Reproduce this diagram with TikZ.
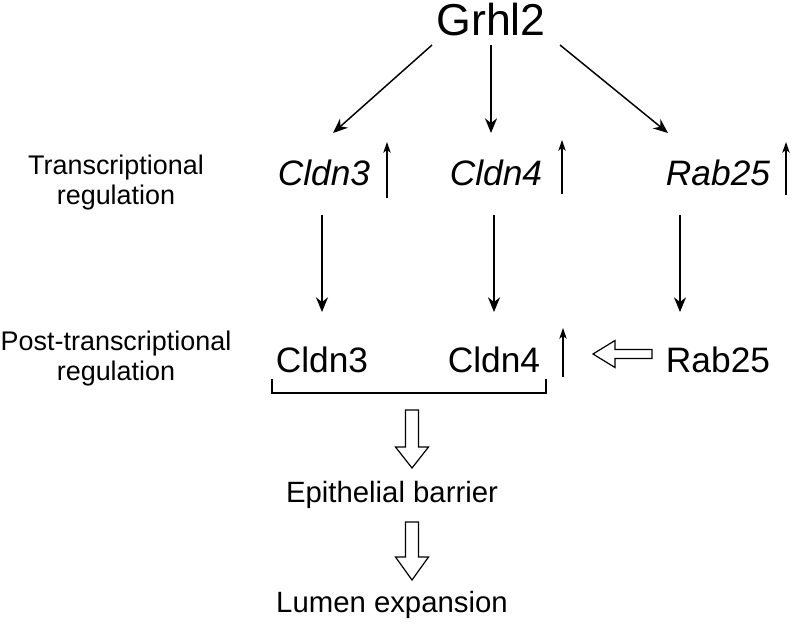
\documentclass[tikz,border=0pt]{standalone}
\usepackage{fontspec}
\setmainfont{Liberation Sans}
\usetikzlibrary{arrows.meta}
\begin{document}
\begin{tikzpicture}[x=0.75pt,y=-0.75pt,
  txt/.style={inner sep=0pt,anchor=base},
  bigtxt/.style={txt,font=\fontsize{33.5}{37}\selectfont},
  genetxt/.style={txt,font=\fontsize{26.5}{30}\selectfont\itshape},
  prottxt/.style={txt,font=\fontsize{26.5}{30}\selectfont},
  outtxt/.style={txt,font=\fontsize{22}{26}\selectfont},
  labtxt/.style={inner sep=0pt,align=center,font=\fontsize{20.2}{22.5}\selectfont},
  arr/.style={line width=1.1pt,-{Stealth[length=11pt,width=9pt,inset=3.5pt]}},
  uparr/.style={line width=1.1pt,-{Stealth[length=8pt,width=5.5pt,inset=2pt]}},
  hollow/.style={line width=0.9pt,draw=black,fill=white,line join=miter}]
\path[use as bounding box] (0,0) rectangle (792,626);
\node[bigtxt] (g) at (491,35) {Grhl2};
\node[genetxt] (t3) at (324,185) {Cldn3};
\node[genetxt] (t4) at (496,185) {Cldn4};
\node[genetxt] (r5) at (718,185) {Rab25};
\node[prottxt] (p3) at (322,372) {Cldn3};
\node[prottxt] (p4) at (494,372) {Cldn4};
\node[prottxt] (pr) at (718,372) {Rab25};
\node[outtxt] (eb) at (392,502) {Epithelial barrier};
\node[outtxt] (le) at (392,612) {Lumen expansion};
\node[labtxt] (l1) at (116,183) {Transcriptional\\regulation};
\node[labtxt] (l2) at (116,359) {Post-transcriptional\\regulation};
% Grhl2 arrows
\draw[arr] ([shift={(-59,10)}]g.base) -- ([shift={(9,-52)}]t3.base);
\draw[arr] ([shift={(0,10)}]g.base) -- ([shift={(-5,-52)}]t4.base);
\draw[arr] ([shift={(69,10)}]g.base) -- ([shift={(-50,-52)}]r5.base);
% transcript to protein
\draw[arr] ([shift={(-2,30)}]t3.base) -- ([shift={(0,-60)}]p3.base);
\draw[arr] ([shift={(-2,30)}]t4.base) -- ([shift={(0,-60)}]p4.base);
\draw[arr] ([shift={(-38,30)}]r5.base) -- ([shift={(-38,-60)}]pr.base);
% up arrows
\draw[uparr] ([shift={(63,13)}]t3.base) -- ([shift={(63,-43)}]t3.base);
\draw[uparr] ([shift={(66,9)}]t4.base) -- ([shift={(66,-45)}]t4.base);
\draw[uparr] ([shift={(68,10)}]r5.base) -- ([shift={(68,-43)}]r5.base);
\draw[uparr] ([shift={(69,5)}]p4.base) -- ([shift={(69,-44)}]p4.base);
% bracket
\draw[line width=0.9pt] ([shift={(-50,7)}]p3.base) -- ([shift={(-50,21)}]p3.base) -- ([shift={(52,21)}]p4.base) -- ([shift={(52,7)}]p4.base);
% hollow arrows
\draw[hollow, shift={(652,354)}] (0,-4.5) -- (-37,-4.5) -- (-37,-13.5) -- (-59,0) -- (-37,13.5) -- (-37,4.5) -- (0,4.5) -- cycle;
\draw[hollow, shift={(412,410)}] (-6.5,0) -- (-6.5,37) -- (-16.5,37) -- (0,58) -- (16.5,37) -- (6.5,37) -- (6.5,0) -- cycle;
\draw[hollow, shift={(412,522)}] (-6.5,0) -- (-6.5,35) -- (-16.5,35) -- (0,58) -- (16.5,35) -- (6.5,35) -- (6.5,0) -- cycle;
\end{tikzpicture}
\end{document}
